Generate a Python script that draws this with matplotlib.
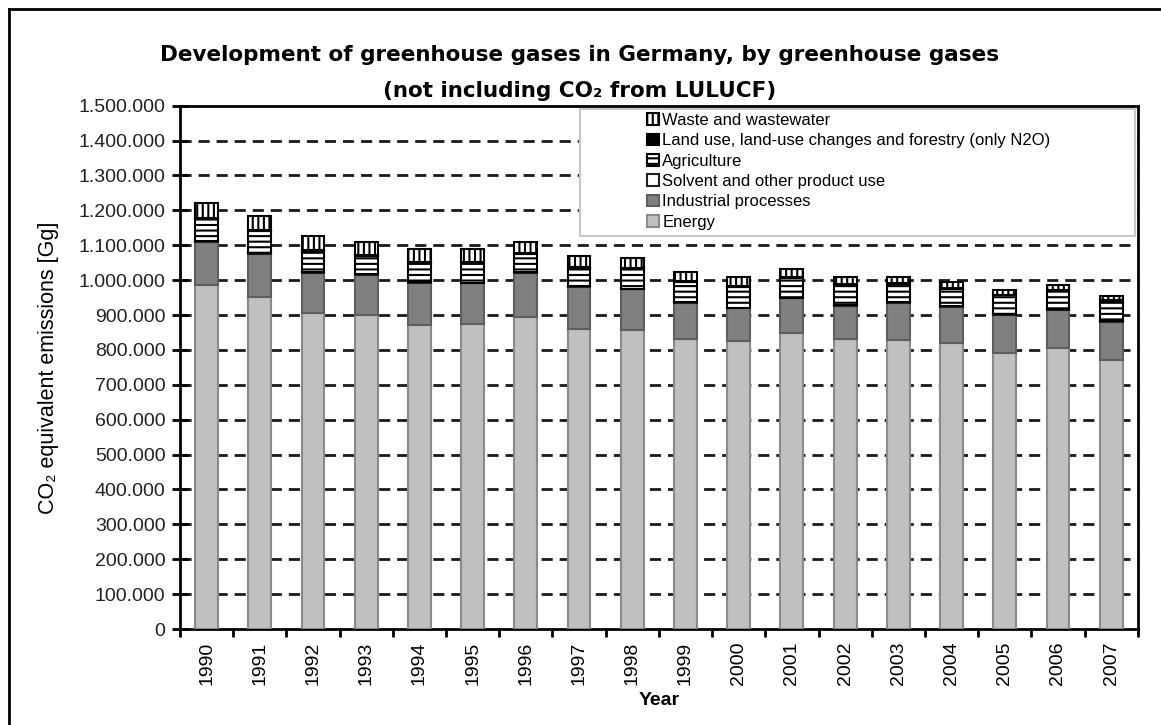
import matplotlib

matplotlib.use("Agg")

import matplotlib.pyplot as plt
import numpy as np
from matplotlib.lines import Line2D
from matplotlib.patches import Rectangle
from matplotlib.ticker import FuncFormatter

plt.rcParams["font.family"] = ["Liberation Sans", "DejaVu Sans"]
plt.rcParams["hatch.linewidth"] = 1.5

# values in Gg CO2 equivalent
years = [str(y) for y in range(1990, 2008)]
energy = [986, 951, 907, 900, 871, 873, 895, 860, 857, 830, 826, 848, 830, 828, 819, 790, 805, 770]
industrial = [124, 123, 114, 115, 120, 118, 125, 121, 117, 104, 93, 100, 96, 106, 105, 110, 109, 110]
solvent = [3, 3, 3, 3, 3, 2, 2, 2, 2, 2, 2, 2, 2, 2, 2, 2, 2, 2]
agriculture = [62, 65, 60, 52, 56, 58, 53, 53, 56, 59, 60, 57, 59, 53, 50, 54, 55, 59]
land_use = [2, 2, 2, 2, 2, 2, 2, 2, 2, 2, 2, 2, 2, 2, 2, 2, 2, 2]
waste = [43, 41, 40, 38, 37, 35, 33, 31, 29, 27, 25, 23, 21, 19, 17, 14, 13, 12]

series = [
    ("Energy", energy, dict(color="#c0c0c0", edgecolor="#8a8a8a")),
    ("Industrial processes", industrial, dict(color="#808080", edgecolor="#5e5e5e")),
    ("Solvent and other product use", solvent, dict(color="white", edgecolor="#202020")),
    ("Agriculture", agriculture, dict(color="white", edgecolor="black", hatch="---")),
    ("Land use, land-use changes and forestry (only N2O)", land_use, dict(color="black", edgecolor="black")),
    ("Waste and wastewater", waste, dict(color="white", edgecolor="black", hatch="|||")),
]

fig = plt.figure(figsize=(11.61, 7.25), dpi=100)
ax = fig.add_axes([0.155, 0.1324, 0.825, 0.7218])

x = np.arange(len(years))
bottom = np.zeros(len(years))
handles = []
for label, vals, style in series:
    v = np.array(vals, dtype=float) * 1000
    b = ax.bar(x, v, 0.43, bottom=bottom, label=label, linewidth=1.5, zorder=3, **style)
    handles.append(b)
    bottom += v

ax.set_xlim(-0.5, len(years) - 0.5)
ax.set_ylim(0, 1500000)
ax.set_yticks(np.arange(0, 1500001, 100000))
ax.yaxis.set_major_formatter(FuncFormatter(lambda v, p: f"{int(v):,}".replace(",", ".")))
for yv in range(100000, 1500000, 100000):
    ax.axhline(yv, color="#1a1a1a", lw=2, ls=(0, (4, 2.5)), zorder=1)

ax.set_xticks(x)
ax.set_xticklabels(years, rotation=90)
ax.set_xticks(np.arange(-0.5, len(years)), minor=True)
ax.tick_params(axis="x", which="major", length=0, pad=9, labelsize=14)
ax.tick_params(axis="x", which="minor", length=6, width=2, direction="out")
ax.tick_params(axis="y", direction="inout", length=11, width=2, pad=5, labelsize=14, labelcolor="#222222")
for s in ax.spines.values():
    s.set_linewidth(2)

ax.set_ylabel("CO\u2082 equivalent emissions [Gg]", fontsize=15.5)
ax.yaxis.set_label_coords(-0.126, 0.5)
ax.set_xlabel("Year", fontsize=14, fontweight="bold")
ax.xaxis.set_label_coords(0.5, -0.121)

# legend frame, then the entries without frame
ax.add_patch(Rectangle((0.4175, 0.751), 0.5794, 0.243, transform=ax.transAxes,
                       facecolor="white", edgecolor="#c8c8c8", lw=1.5, zorder=4))
leg = ax.legend(handles[::-1], [h.get_label() for h in handles[::-1]], loc="upper left",
                bbox_to_anchor=(0.4875, 0.986), frameon=False, fontsize=12,
                handlelength=0.72, handleheight=0.72, handletextpad=0.2,
                labelspacing=0.32, borderpad=0, borderaxespad=0)
leg.set_zorder(5)

fig.text(0.4996, 0.924, "Development of greenhouse gases in Germany, by greenhouse gases",
         ha="center", va="center", fontsize=15.5, fontweight="bold", family="DejaVu Sans")
fig.text(0.4996, 0.875, "(not including CO\u2082 from LULUCF)",
         ha="center", va="center", fontsize=15.5, fontweight="bold", family="DejaVu Sans")

fig.add_artist(Line2D([9 / 1161, 9 / 1161], [0, 1 - 9 / 725], transform=fig.transFigure, color="black", lw=2))
fig.add_artist(Line2D([9 / 1161, 1], [1 - 9 / 725, 1 - 9 / 725], transform=fig.transFigure, color="black", lw=2))

fig.savefig("out.png", dpi=100)
